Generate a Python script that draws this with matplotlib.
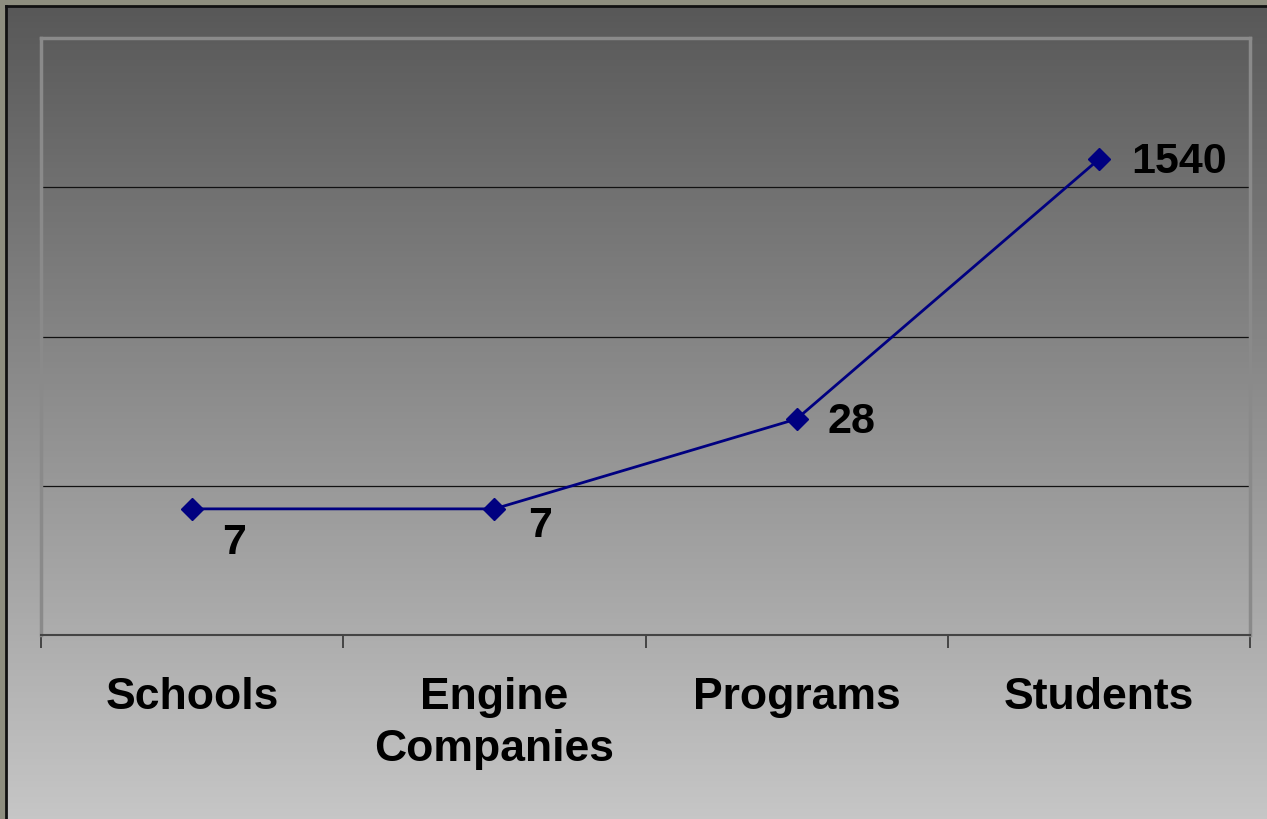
import numpy as np
import matplotlib
matplotlib.use("Agg")
import matplotlib.pyplot as plt
from matplotlib import font_manager as fm

categories = ["Schools", "Engine\nCompanies", "Programs", "Students"]
values = [7, 7, 28, 1540]
value_labels = ["7", "7", "28", "1540"]
label_offsets = [(30, -34), (34, -17), (31, -3), (32, -3)]  # pixels

W, H, DPI = 1267, 819, 100

bold_path = None
for f in fm.fontManager.ttflist:
    if f.fname.endswith("LiberationSans-Bold.ttf"):
        bold_path = f.fname
        break
if bold_path:
    fp_cat = fm.FontProperties(fname=bold_path, size=32)
    fp_val = fm.FontProperties(fname=bold_path, size=31)
else:
    fp_cat = fm.FontProperties(family="DejaVu Sans", weight="bold", size=28)
    fp_val = fm.FontProperties(family="DejaVu Sans", weight="bold", size=27)

fig = plt.figure(figsize=(W / DPI, H / DPI), dpi=DPI, facecolor="#8e8e7f")

# background panel with vertical gradient
bx = 6 / W
by_top = 6 / H
bg = fig.add_axes([bx, 0, 1 - bx, 1 - by_top])
grad = np.linspace(88, 198, 256)[:, None] / 255.0
img = np.dstack([grad, grad, grad])
bg.imshow(img, aspect="auto", extent=[0, 1, 0, 1], origin="upper")
bg.set_xlim(0, 1)
bg.set_ylim(0, 1)
bg.set_xticks([])
bg.set_yticks([])
for s in ["right", "bottom"]:
    bg.spines[s].set_visible(False)
for s in ["left", "top"]:
    bg.spines[s].set_color("#111111")
    bg.spines[s].set_linewidth(2)

# plot area
L, R, T, B = 41, 1250, 38, 635
ax = fig.add_axes([L / W, (H - B) / H, (R - L) / W, (B - T) / H])
ax.patch.set_alpha(0)
ax.set_yscale("log")
ax.set_ylim(1, 10000)
ax.set_xlim(0, len(categories))
x = np.arange(len(categories)) + 0.5

for yv in [10, 100, 1000]:
    ax.axhline(yv, color="#111111", lw=0.9, zorder=1)

ax.plot(x, values, color="#000080", lw=2, marker="D", ms=11,
        mec="#000080", mfc="#000080", zorder=3)

for xi, v, lab, (dx, dy) in zip(x, values, value_labels, label_offsets):
    ax.annotate(lab, (xi, v), xytext=(dx * 72 / DPI, dy * 72 / DPI),
                textcoords="offset points", ha="left", va="center",
                fontproperties=fp_val, color="black")

ax.set_xticks(np.arange(len(categories) + 1))
ax.set_xticklabels([])
ax.set_xticks(x, minor=True)
ax.set_xticklabels(categories, minor=True, fontproperties=fp_cat,
                   linespacing=1.33)
ax.tick_params(axis="x", which="major", length=13 * 72 / DPI, width=1.2,
               color="#333333", direction="out")
ax.tick_params(axis="x", which="minor", length=0, pad=42 * 72 / DPI)
ax.set_yticks([])
ax.yaxis.set_minor_locator(matplotlib.ticker.NullLocator())

for s in ["left", "top", "right"]:
    ax.spines[s].set_color("#8a8a8a")
    ax.spines[s].set_linewidth(2.5)
ax.spines["bottom"].set_color("#444444")
ax.spines["bottom"].set_linewidth(1.5)

fig.savefig("out.png", dpi=DPI, facecolor=fig.get_facecolor())
